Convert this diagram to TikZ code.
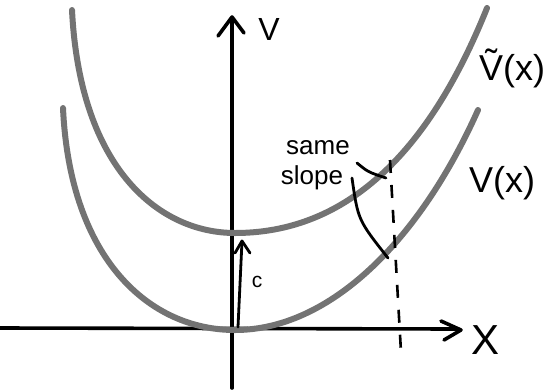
\documentclass[tikz,border=0pt]{standalone}
\usepackage{fontspec}
\setmainfont{Liberation Sans}
\begin{document}
\begin{tikzpicture}[x=1pt,y=-1pt,
  curve/.style={draw=gray!90!black,line width=6pt,line cap=round},
  ink/.style={draw=black,line width=3.6pt,line cap=round,line join=round},
  thin ink/.style={draw=black,line width=2.8pt,line cap=round,line join=round},
  lbl/.style={inner sep=0pt,text=black}]
\useasboundingbox (0,0) rectangle (545,391);
% axes
\coordinate (yb) at (232,388);
\coordinate (yt) at (232,20);
\coordinate (xl) at (0,328);
\coordinate (xr) at (457,329);
\draw[ink] (yb) -- (yt);
\draw[ink] (218,36) -- (232,17) -- (244,33);
\draw[ink] (xl) -- (xr);
\draw[ink] (441,321) -- (461,330) -- (444,340);
% curves
\draw[curve] (63,108) .. controls (70,260) and (150,330) .. (235,330)
  .. controls (330,330) and (420,240) .. (478,110);
\draw[curve] (72,10) .. controls (80,170) and (160,233) .. (235,233)
  .. controls (330,233) and (420,175) .. (487,8);
% dashed line
\coordinate (dt) at (390,160);
\coordinate (db) at (401,352);
\draw[black,line width=2.6pt,dash pattern=on 13pt off 12pt] (dt) -- (db);
% c arrow
\coordinate (cb) at (238,327);
\coordinate (ct) at (242,241);
\draw[thin ink] (cb) -- (ct);
\draw[thin ink] (235,253) -- (ct) -- (250,253);
% labels
\node[lbl,font=\fontsize{32}{32}\selectfont] (vlab) at (269,29) {V};
\node[lbl,font=\fontsize{42}{42}\selectfont] (xlab) at (485,340) {X};
\node[lbl,font=\fontsize{21}{21}\selectfont] (clab) at (257,282) {c};
\node[lbl,font=\fontsize{26}{26}\selectfont] (same) at (318,148) {same};
\node[lbl,font=\fontsize{26}{26}\selectfont] (slope) at (312,178) {slope};
\node[lbl,font=\fontsize{36}{40}\selectfont] (vt) at (512,68) {\~{V}(x)};
\node[lbl,font=\fontsize{36}{40}\selectfont] (v) at (502,183) {V(x)};
% pointers
\coordinate (p1) at (386,178);
\coordinate (p2) at (388,258);
\draw[thin ink] (357,163) .. controls (368,172) .. (p1);
\draw[thin ink] (352,178) .. controls (358,220) .. (p2);
\end{tikzpicture}
\end{document}
